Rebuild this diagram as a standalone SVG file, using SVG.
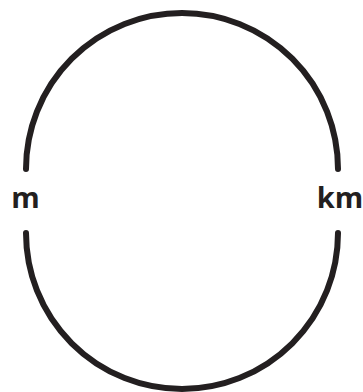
<svg xmlns="http://www.w3.org/2000/svg" width="363" height="392" viewBox="0 0 363 392">
<style>
.arc{fill:none;stroke:#231f20;stroke-width:6;stroke-linecap:round}
.lbl{font-family:"Open Sans","Liberation Sans",sans-serif;font-weight:bold;font-size:29px;fill:#231f20}
</style>
<rect width="363" height="392" fill="#fff"/>
<g id="connectors">
<path class="arc" d="M26,169 A156,156 0 0 1 338,169"/>
<path class="arc" d="M26,233 A156,156 0 0 0 338,233"/>
</g>
<g id="node-m"><text class="lbl" x="25.5" y="208" text-anchor="middle">m</text></g>
<g id="node-km"><text class="lbl" x="340" y="208" text-anchor="middle">km</text></g>
</svg>
